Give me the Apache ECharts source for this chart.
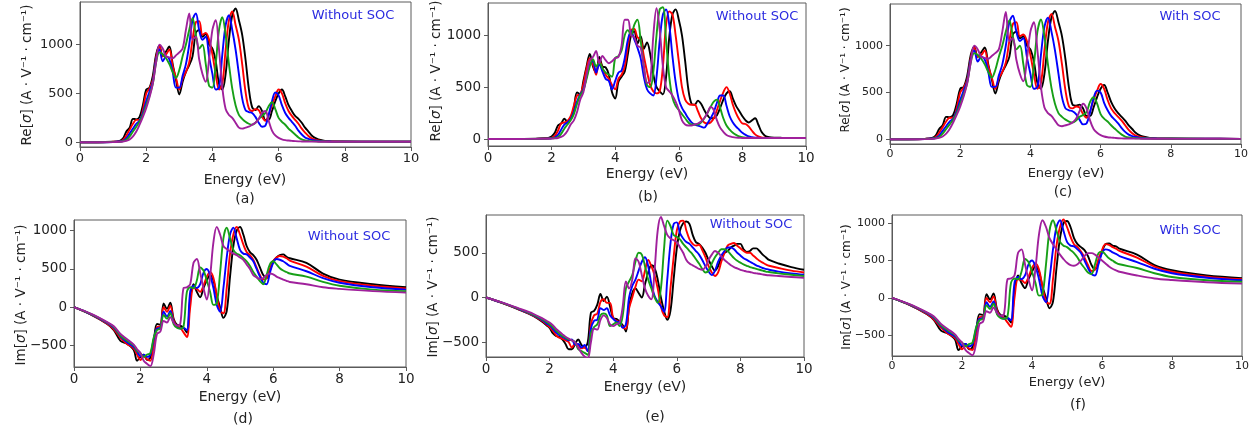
<!DOCTYPE html>
<html><head><meta charset="utf-8">
<script src="https://cdn.jsdelivr.net/npm/echarts@6/dist/echarts.min.js"></script>
<style>html,body{margin:0;padding:0;background:#fff}#c{width:1256px;height:433px}</style>
</head><body><div id="c"></div>
<script>
// ---------- Energy grids (eV) ----------
const energyA = [0,0.5,1.0,1.2,1.3,1.4,1.5,1.6,1.7,1.8,
 1.9,2.0,2.1,2.2,2.3,2.4,2.5,2.6,2.7,2.8,
 2.9,3.0,3.1,3.2,3.3,3.4,3.5,3.6,3.7,3.8,
 3.9,4.0,4.1,4.2,4.3,4.4,4.5,4.6,4.7,4.8,
 4.9,5.0,5.1,5.2,5.3,5.4,5.5,5.6,5.7,5.8,
 5.9,6.0,6.1,6.2,6.3,6.4,6.5,6.6,6.7,6.8,
 6.9,7.0,7.1,7.2,7.4,7.6,8,9,10];
const energyB = [0,0.5,1.0,1.5,1.8,1.9,2.0,2.1,2.2,2.3,
 2.4,2.5,2.6,2.7,2.8,2.9,3.0,3.1,3.2,3.3,
 3.4,3.5,3.6,3.7,3.8,3.9,4.0,4.1,4.2,4.3,
 4.4,4.5,4.6,4.7,4.8,4.9,5.0,5.1,5.2,5.3,
 5.4,5.5,5.6,5.7,5.8,5.9,6.0,6.1,6.2,6.3,
 6.4,6.5,6.6,6.7,6.8,6.9,7.0,7.1,7.2,7.3,
 7.4,7.5,7.6,7.7,7.8,7.9,8.0,8.1,8.2,8.3,
 8.4,8.5,8.6,8.7,8.8,8.9,9.2,9.6,10];
const energyD = [0,0.5,1.0,1.2,1.4,1.6,1.8,1.9,2.0,2.1,
 2.2,2.3,2.4,2.5,2.6,2.7,2.8,2.9,3.0,3.1,
 3.2,3.3,3.4,3.5,3.6,3.7,3.8,3.9,4.0,4.1,
 4.2,4.3,4.4,4.5,4.6,4.7,4.8,4.9,5.0,5.1,
 5.2,5.3,5.4,5.5,5.6,5.7,5.8,5.9,6.0,6.1,
 6.2,6.3,6.4,6.5,7.0,7.5,8.0,9.0,10];

// ---------- (a) Re[sigma], without SOC ----------
const reA_black = [0,0,5,15,40,110,150,240,235,260, 380,540,560,680,900,990,880,930,980,800, 640,490,620,720,790,880,1120,1150,1080,1110, 1000,960,830,600,540,700,1050,1300,1370,1250, 1100,850,550,360,330,370,320,230,230,320, 420,500,540,470,380,320,270,240,200,150, 110,70,45,30,15,10,8,6,5];
const reA_red = [0,0,5,10,25,70,130,190,230,230, 330,500,550,640,870,980,880,900,950,780, 660,540,650,720,820,1050,1230,1240,1100,1120, 1050,900,700,540,600,950,1250,1340,1200,1050, 800,520,350,320,340,330,260,220,280,380, 470,540,500,400,320,270,230,190,140,100, 65,40,28,20,12,9,7,6,5];
const reA_blue = [0,0,3,8,15,40,90,140,190,220, 300,420,520,620,850,950,830,880,850,720, 560,560,680,800,1000,1250,1320,1150,1050,1080, 880,700,540,560,900,1200,1300,1150,950,700, 450,330,310,300,260,200,160,170,280,420, 510,480,380,300,250,210,170,120,80,50, 35,25,18,14,10,8,7,6,5];
const reA_green = [0,0,3,6,12,25,60,110,160,210, 280,380,480,600,820,920,900,860,800,720, 660,740,880,1000,1150,1270,1100,960,1000,800, 580,560,800,1150,1280,1100,800,550,380,280, 240,210,190,180,200,240,270,300,370,410, 340,250,210,180,140,110,80,50,30,20, 15,12,10,9,8,7,6,5,5];
const reA_purple = [0,0,2,5,8,15,30,60,110,180, 260,350,460,600,820,1000,960,880,870,860, 890,920,960,1150,1320,1050,1080,850,700,620, 850,1150,1250,950,560,340,280,250,200,150, 140,150,160,180,200,240,300,320,220,120, 70,45,30,22,18,15,12,10,9,8, 8,7,7,6,6,6,5,5,5];

// ---------- (c) Re[sigma], with SOC ----------
const reC_black = [0,0,5,15,40,110,150,240,235,260, 380,540,560,680,900,990,880,930,980,800, 640,490,620,720,790,880,1120,1150,1080,1100, 1000,960,830,600,540,700,1050,1300,1370,1250, 1100,850,550,370,360,370,330,250,250,340, 450,540,580,500,400,330,280,240,200,150, 110,70,45,30,15,10,8,6,5];
const reC_red = [0,0,5,10,25,70,130,190,230,230, 330,500,550,640,870,980,880,900,950,780, 660,540,650,720,820,1050,1230,1250,1100,1120, 1050,900,700,540,600,950,1250,1340,1200,1050, 800,520,350,330,350,340,270,230,300,420, 520,590,540,420,330,280,240,200,150,100, 65,40,28,20,12,9,7,6,5];
const reC_blue = [0,0,3,8,15,40,90,140,190,220, 300,420,520,620,850,950,830,880,850,720, 560,560,680,800,1000,1250,1320,1150,1050,1080, 880,700,540,560,900,1200,1300,1150,950,700, 450,330,310,300,270,210,160,170,290,440, 520,500,390,310,250,210,170,120,80,50, 35,25,18,14,10,8,7,6,5];
const reC_green = [0,0,3,6,12,25,60,110,160,210, 280,380,480,600,820,920,900,860,800,720, 660,740,880,1000,1150,1270,1100,960,1000,800, 580,560,800,1150,1280,1100,800,550,380,280, 240,210,190,180,200,240,260,290,400,450, 380,270,220,190,150,115,80,50,30,20, 15,12,10,9,8,7,6,5,5];
const reC_purple = [0,0,2,5,8,15,30,60,110,180, 260,350,460,600,820,1000,960,880,870,860, 890,920,960,1150,1360,1050,1080,850,700,620, 850,1150,1250,950,560,340,280,250,200,150, 140,150,160,180,220,300,380,330,200,110, 70,45,30,22,18,15,12,10,9,8, 8,7,7,6,6,6,5,5,5];

// ---------- (b) Re[sigma], without SOC ----------
const reB_black = [0,0,1,3,8,12,25,60,130,150, 195,170,200,300,450,430,560,700,820,700, 640,790,700,690,620,450,390,550,600,650, 820,1000,1040,920,990,870,930,820,620,500, 460,430,600,980,1200,1250,1150,1000,750,480, 340,330,370,340,280,230,200,200,230,300, 380,440,460,390,320,270,220,180,160,180, 200,140,70,35,20,15,12,10,10];
const reB_red = [0,0,1,2,5,8,12,30,80,150, 160,175,220,320,420,430,530,680,780,720, 620,760,680,620,580,520,480,580,620,700, 900,1050,1060,980,960,800,650,520,460,440, 460,700,1100,1230,1200,1000,750,500,380,340, 330,330,270,200,160,150,160,200,280,370, 450,500,440,330,250,190,150,145,120,80, 45,25,15,12,10,10,10,10,10];
const reB_blue = [0,0,1,2,4,5,8,15,40,90, 140,160,190,260,360,430,480,600,720,750, 640,720,650,580,560,480,560,640,660,780, 960,1040,960,880,780,600,480,440,420,600, 950,1200,1250,1100,800,550,380,300,250,200, 160,140,130,120,110,150,200,260,350,420, 420,320,220,160,120,90,60,40,25,18, 14,12,10,10,10,10,10,10,10];
const reB_green = [0,0,1,2,3,4,6,10,20,50, 100,140,180,240,340,420,470,580,700,770, 700,740,680,640,620,600,780,800,850,1000, 1050,1000,1100,1150,950,700,520,500,650,1000, 1250,1270,950,600,400,320,280,240,200,160, 140,140,140,160,200,250,310,360,380,300, 200,130,90,60,40,25,18,14,12,10, 10,10,10,10,10,10,10,10,10];
const reB_purple = [0,0,1,2,3,3,4,6,10,20, 40,80,140,180,260,380,450,620,760,790, 850,730,800,760,730,750,780,790,900,1150, 1150,1000,980,900,880,700,540,560,1000,1260, 1050,700,500,460,420,360,280,180,140,130, 130,140,150,170,200,250,310,280,180,110, 70,40,25,18,14,12,10,10,10,10, 10,10,10,10,10,10,10,10,10];

// ---------- (d) Im[sigma], without SOC ----------
const imD_black = [0,-95,-220,-300,-440,-480,-560,-700,-650,-620, -690,-660,-450,-220,-230,50,-20,60,-150,-230, -240,-270,-330,100,300,200,130,250,350,420, 350,150,0,-140,-50,400,800,1000,1050,950, 800,720,680,620,520,420,380,480,600,650, 680,690,660,640,580,440,360,300,260];
const imD_red = [0,-93,-215,-290,-400,-480,-540,-620,-690,-640, -680,-700,-500,-260,-250,0,-60,20,-170,-250, -270,-330,-390,0,250,240,200,280,400,460, 380,150,-50,-80,250,700,950,1050,950,820, 720,680,620,520,420,360,380,500,600,650, 670,660,640,610,530,410,340,280,245];
const imD_blue = [0,-90,-205,-270,-380,-460,-520,-580,-640,-620, -650,-620,-420,-280,-270,-60,-120,-50,-200,-260, -280,-270,-300,200,280,250,300,450,500,420, 250,30,-60,250,650,950,1040,900,750,700, 690,650,600,500,400,320,300,450,580,630, 620,600,570,540,470,380,320,260,230];
const imD_green = [0,-88,-200,-260,-370,-440,-500,-570,-600,-650, -620,-600,-400,-300,-280,-100,-150,-80,-220,-270, -280,-250,200,260,250,350,520,480,350,200, 30,50,450,900,1040,900,750,700,680,640, 600,540,460,400,340,300,420,560,600,560, 510,480,460,440,400,330,280,230,210];
const imD_purple = [0,-85,-195,-250,-350,-420,-490,-550,-600,-700, -740,-770,-620,-350,-320,-180,-200,-130,-200,-240, -220,250,260,300,580,630,450,250,100,400, 850,1050,950,800,760,730,700,680,650,620, 560,500,420,390,370,380,420,440,430,400, 380,360,345,330,300,260,240,210,190];

// ---------- (e) Im[sigma], without SOC ----------
const imE_black = [0,-60,-130,-210,-280,-310,-340,-400,-430,-440, -470,-520,-580,-580,-520,-470,-530,-560,-500,-170, -150,-80,40,-40,10,-100,-230,-240,-270,-310, -380,-100,50,100,50,0,150,280,360,330, 200,0,-150,-250,-150,200,550,750,830,850, 820,700,620,600,560,500,420,350,300,350, 450,500,520,560,580,600,600,540,510,520, 550,550,520,480,450,420,380,340,310];
const imE_red = [0,-60,-128,-205,-270,-300,-330,-370,-420,-450, -460,-480,-500,-560,-520,-530,-570,-560,-600,-300, -200,-180,-50,-20,-60,-60,-230,-260,-280,-330, -350,-120,0,120,200,180,300,420,350,250, 100,-100,-200,-220,100,450,750,850,860,750, 650,600,580,590,530,450,350,280,240,280, 400,500,580,600,610,580,550,520,500,500, 470,440,410,390,370,355,330,300,280];
const imE_blue = [0,-58,-125,-200,-260,-290,-310,-350,-390,-420, -440,-460,-480,-470,-530,-520,-560,-530,-600,-350, -260,-250,-120,-140,-120,-200,-240,-270,-280,-340, -300,0,130,200,300,400,450,350,150,20, -50,-100,-160,200,600,820,840,720,660,620, 600,560,520,480,420,350,290,250,300,400, 470,520,560,560,540,500,470,440,420,400, 380,360,345,330,320,310,290,270,255];
const imE_green = [0,-57,-122,-195,-250,-275,-300,-330,-370,-400, -430,-450,-470,-480,-500,-580,-600,-620,-640,-400, -330,-300,-200,-180,-200,-320,-300,-280,-320,-200, 100,180,250,400,500,480,350,200,100,0, -60,100,550,860,800,700,680,650,600,560, 520,480,430,380,320,280,300,380,450,500, 540,540,520,480,440,410,390,370,355,340, 330,320,310,300,290,285,270,255,240];
const imE_purple = [0,-55,-118,-185,-240,-260,-280,-310,-350,-380, -410,-440,-460,-480,-500,-560,-620,-660,-680,-500, -350,-360,-250,-200,-230,-300,-320,-300,-280,-100, 180,100,200,440,400,250,100,20,-20,300, 750,900,800,700,660,640,620,560,500,420, 380,360,340,320,310,340,420,480,520,500, 460,420,390,360,340,325,310,300,290,285, 275,270,265,258,252,248,240,230,220];

// ---------- (f) Im[sigma], with SOC ----------
const imF_black = [0,-95,-220,-300,-440,-480,-560,-700,-650,-620, -690,-660,-450,-220,-230,50,-20,60,-150,-230, -240,-270,-330,100,300,200,130,250,350,420, 350,150,0,-140,-50,400,800,1000,1030,950, 800,720,680,640,560,440,380,480,620,720, 730,700,690,660,580,440,370,300,265];
const imF_red = [0,-93,-215,-290,-400,-480,-540,-620,-690,-640, -680,-700,-500,-260,-250,0,-60,20,-170,-250, -270,-330,-390,0,250,240,200,280,400,460, 380,150,-50,-80,250,700,950,1050,950,820, 720,680,620,540,440,360,380,520,640,720, 710,680,660,630,540,420,350,285,250];
const imF_blue = [0,-90,-205,-270,-380,-460,-520,-580,-640,-620, -650,-620,-420,-280,-270,-60,-120,-50,-200,-260, -280,-270,-300,200,280,250,300,450,500,420, 250,30,-60,250,650,950,1040,900,750,700, 690,650,600,500,400,320,300,450,600,650, 640,610,590,560,480,390,330,270,235];
const imF_green = [0,-88,-200,-260,-370,-440,-500,-570,-600,-650, -620,-600,-400,-300,-280,-100,-150,-80,-220,-270, -280,-250,200,260,250,350,520,480,350,200, 30,50,450,900,1040,900,750,700,680,640, 600,540,460,400,340,320,450,600,620,580, 530,500,470,450,400,330,280,235,215];
const imF_purple = [0,-85,-195,-250,-350,-420,-490,-550,-600,-700, -740,-770,-620,-350,-320,-180,-200,-130,-200,-240, -220,250,260,300,600,650,450,250,100,400, 850,1040,950,800,720,650,580,520,470,440, 430,450,500,560,600,600,580,540,500,460, 420,390,370,350,300,260,240,210,190];

// ---------- tick labels ----------
const xTicks = [0,2,4,6,8,10];
const yTicksRe = [0,500,1000];
const yTicksImD = [-500,0,500,1000];
const yTicksImE = [-500,0,500];
const curveNames = ['curve 1','curve 2','curve 3','curve 4','curve 5'];
const curveColors = ['#000000','#ff0000','#0000ff','#17a017','#a0209c'];

const zip = (xs, ys) => xs.map((x, i) => [x, ys[i]]);

const panels = [
  {grid:{left:80, top:2, width:331, height:145}, ymin:-48, ymax:1436, ticks:yTicksRe, fs:13,
   x:energyA, ys:[reA_black,reA_red,reA_blue,reA_green,reA_purple]},
  {grid:{left:488, top:3, width:318, height:143}, ymin:-67, ymax:1311, ticks:yTicksRe, fs:13.5,
   x:energyB, ys:[reB_black,reB_red,reB_blue,reB_green,reB_purple]},
  {grid:{left:890, top:4, width:351, height:140}, ymin:-50, ymax:1445, ticks:yTicksRe, fs:11,
   x:energyA, ys:[reC_black,reC_red,reC_blue,reC_green,reC_purple]},
  {grid:{left:74, top:220, width:332, height:147}, ymin:-782, ymax:1140, ticks:yTicksImD, fs:13.5,
   x:energyD, ys:[imD_black,imD_red,imD_blue,imD_green,imD_purple]},
  {grid:{left:486, top:215, width:318, height:142}, ymin:-666, ymax:923, ticks:yTicksImE, fs:13.5,
   x:energyB, ys:[imE_black,imE_red,imE_blue,imE_green,imE_purple]},
  {grid:{left:892, top:215, width:350, height:141}, ymin:-780, ymax:1111, ticks:yTicksImD, fs:11,
   x:energyD, ys:[imF_black,imF_red,imF_blue,imF_green,imF_purple]}
];

const FONT = 'DejaVu Sans';
const frame = '#5a5a5a';
const grids = [], xAxes = [], yAxes = [], series = [];
panels.forEach((p, i) => {
  grids.push(Object.assign({show:true, borderColor:frame, borderWidth:1, backgroundColor:'transparent'}, p.grid));
  xAxes.push({gridIndex:i, type:'value', min:0, max:10, interval:2,
    axisLine:{show:true, onZero:false, lineStyle:{color:frame, width:1}},
    axisTick:{show:true, length:4, inside:false, lineStyle:{color:frame}},
    axisLabel:{fontSize:p.fs, color:'#222', margin:5, fontFamily:FONT, customValues:xTicks},
    splitLine:{show:false}});
  yAxes.push({gridIndex:i, type:'value', min:p.ymin, max:p.ymax,
    axisLine:{show:true, onZero:false, lineStyle:{color:frame, width:1}},
    axisTick:{show:true, length:4, inside:false, customValues:p.ticks, lineStyle:{color:frame}},
    axisLabel:{fontSize:p.fs, color:'#222', margin:7, fontFamily:FONT, customValues:p.ticks,
      formatter: v => (v < 0 ? '\u2212' + Math.abs(v) : String(v))},
    splitLine:{show:false}});
  p.ys.forEach((ys, k) => {
    series.push({type:'line', name:curveNames[k], xAxisIndex:i, yAxisIndex:i,
      data:zip(p.x, ys), showSymbol:false, smooth:0.35, clip:true,
      lineStyle:{color:curveColors[k], width:1.9}, itemStyle:{color:curveColors[k]},
      emphasis:{disabled:true}, animation:false, z:2+k});
  });
});

function ylab(x, y, prefix, fs) {
  return {type:'text', x:x, y:y, rotation:Math.PI/2, silent:true,
    style:{text: prefix + '[{i|σ}] (A · V⁻¹ · cm⁻¹)', fontSize:fs, fontFamily:FONT, fill:'#222',
      align:'center', verticalAlign:'middle',
      rich:{i:{fontStyle:'italic', fontSize:fs, fontFamily:FONT, fill:'#222'}}}};
}
function txt(x, y, s, fs, color) {
  return {type:'text', x:x, y:y, silent:true,
    style:{text:s, fontSize:fs, fontFamily:FONT, fill:color || '#222', align:'center', verticalAlign:'middle'}};
}
const blue = '#2b2be0';
const graphic = [
  ylab(27, 75, 'Re', 13.5), ylab(436, 71, 'Re', 13.5), ylab(846, 70, 'Re', 12),
  ylab(21, 295, 'Im', 13.5), ylab(433, 287, 'Im', 13.5), ylab(847, 287, 'Im', 12),
  txt(245, 180, 'Energy (eV)', 14), txt(647, 174, 'Energy (eV)', 14), txt(1066, 174, 'Energy (eV)', 13),
  txt(240, 397, 'Energy (eV)', 14), txt(645, 387, 'Energy (eV)', 14), txt(1067, 383, 'Energy (eV)', 13),
  txt(245, 199, '(a)', 14), txt(648, 197, '(b)', 14), txt(1063, 192, '(c)', 14),
  txt(243, 419, '(d)', 14), txt(655, 417, '(e)', 14), txt(1078, 405, '(f)', 14),
  txt(353, 16, 'Without SOC', 13, blue), txt(757, 17, 'Without SOC', 13, blue), txt(1190, 17, 'With SOC', 13, blue),
  txt(349, 237, 'Without SOC', 13, blue), txt(751, 225, 'Without SOC', 13, blue), txt(1190, 231, 'With SOC', 13, blue)
];

const chart = echarts.init(document.getElementById('c'), null, {renderer:'canvas'});
chart.setOption({animation:false, backgroundColor:'#fff', grid:grids, xAxis:xAxes, yAxis:yAxes, series:series, graphic:graphic});
</script>
</body></html>
